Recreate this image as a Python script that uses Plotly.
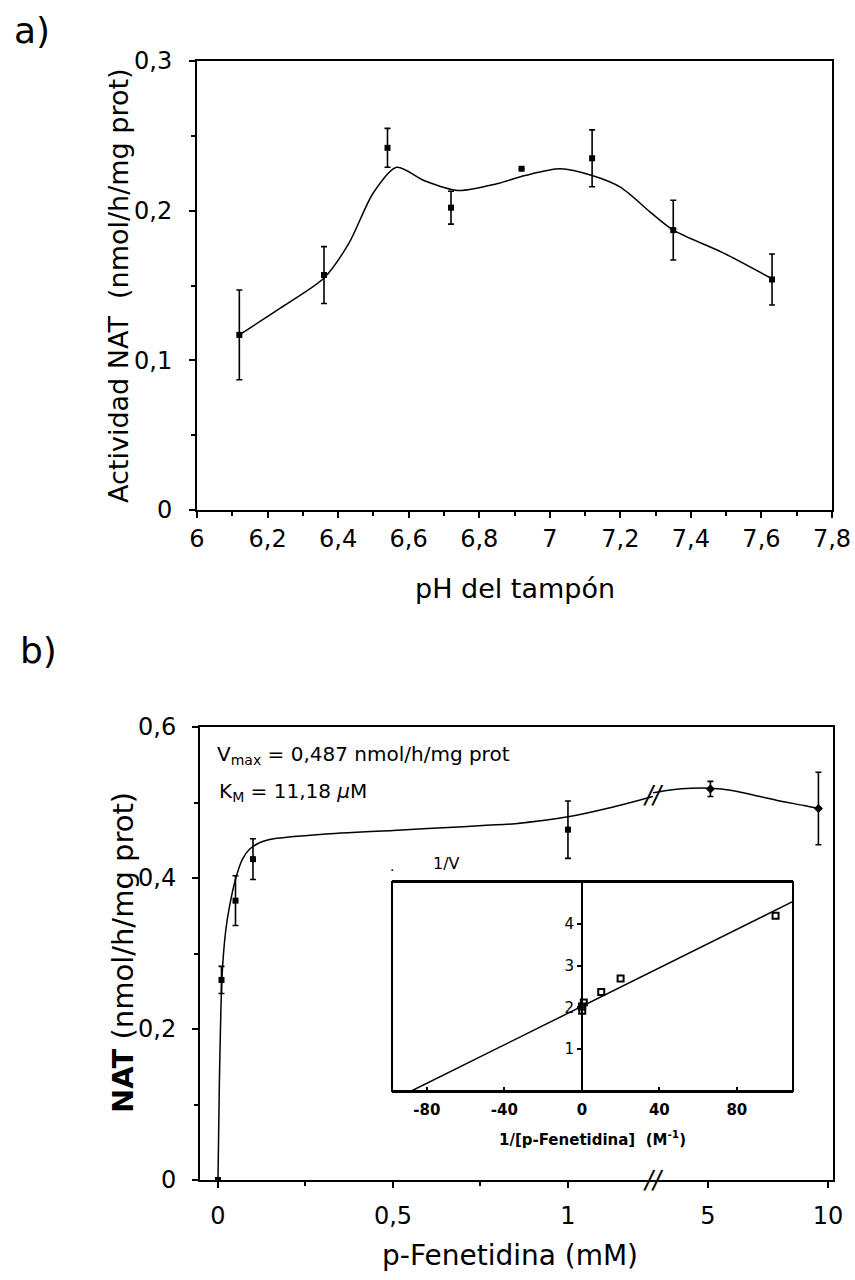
import plotly.graph_objects as go

# ---- a) actividad NAT vs pH
ph = [6.12, 6.36, 6.54, 6.72, 6.92, 7.12, 7.35, 7.63]
act = [0.117, 0.157, 0.242, 0.202, 0.228, 0.235, 0.187, 0.154]
act_err = [0.030, 0.019, 0.013, 0.011, 0.0, 0.019, 0.020, 0.017]
ph_curve = [6.12, 6.25, 6.36, 6.43, 6.50, 6.566, 6.645, 6.74, 6.85, 6.93, 7.03, 7.12, 7.20, 7.29, 7.35, 7.49, 7.63]
act_curve = [0.117, 0.137, 0.155, 0.178, 0.212, 0.229, 0.220, 0.2135, 0.218, 0.2235, 0.228, 0.2235, 0.2157, 0.198, 0.187, 0.172, 0.1545]
ph_ticks = [6, 6.2, 6.4, 6.6, 6.8, 7, 7.2, 7.4, 7.6, 7.8]
ph_labels = ["6", "6,2", "6,4", "6,6", "6,8", "7", "7,2", "7,4", "7,6", "7,8"]
act_ticks = [0, 0.1, 0.2, 0.3]
act_labels = ["0", "0,1", "0,2", "0,3"]

# ---- b) NAT vs p-fenetidina (eje partido)
conc_lo = [0, 0.01, 0.05, 0.10, 1.0]
nat_lo = [0, 0.265, 0.37, 0.425, 0.464]
nat_lo_err = [0, 0.018, 0.033, 0.027, 0.038]
conc_hi = [5.1, 9.6]
nat_hi = [0.518, 0.492]
nat_hi_err = [0.010, 0.048]
fit_lo_x = [0, 0.004, 0.011, 0.022, 0.034, 0.051, 0.07, 0.09, 0.12, 0.16, 0.3, 0.5, 0.7, 0.85, 1.0, 1.12, 1.243]
fit_lo_y = [0, 0.13, 0.265, 0.33, 0.365, 0.40, 0.425, 0.438, 0.447, 0.452, 0.458, 0.463, 0.468, 0.472, 0.481, 0.493, 0.508]
fit_hi_x = [2.708, 3.5, 4.3, 5.1, 6.0, 7.0, 8.0, 9.0, 9.6]
fit_hi_y = [0.513, 0.517, 0.519, 0.519, 0.516, 0.509, 0.502, 0.496, 0.492]
nat_ticks = [0, 0.2, 0.4, 0.6]
nat_labels = ["0", "0,2", "0,4", "0,6"]

# ---- inset Lineweaver-Burk
lb_x = [100, 20, 10, 1, 0.2, 0.1]
lb_y = [4.19, 2.69, 2.37, 2.12, 1.92, 2.02]
lb_line_x = [-88, 108.8]
lb_line_y = [0, 4.53]
lb_xticks = [-80, -40, 0, 40, 80]
lb_xlabels = ["-80", "-40", "0", "40", "80"]

W, H = 855, 1280
FONT = "DejaVu Sans"


def px(x):
    return x / W


def py(y):
    return 1 - y / H


fig = go.Figure()

err_style = dict(type="data", color="black", thickness=1.6, width=3)

fig.add_trace(go.Scatter(x=ph_curve, y=act_curve, mode="lines", line=dict(color="black", width=1.5, shape="spline", smoothing=0.8),
                         xaxis="x", yaxis="y"))
fig.add_trace(go.Scatter(x=ph, y=act, mode="markers", marker=dict(symbol="square", size=6, color="black"),
                         error_y=dict(array=act_err, **err_style), xaxis="x", yaxis="y"))

fig.add_trace(go.Scatter(x=fit_lo_x, y=fit_lo_y, mode="lines", line=dict(color="black", width=1.5, shape="spline", smoothing=0.6),
                         xaxis="x2", yaxis="y2"))
fig.add_trace(go.Scatter(x=conc_lo, y=nat_lo, mode="markers", marker=dict(symbol="square", size=6, color="black"),
                         error_y=dict(array=nat_lo_err, **err_style), xaxis="x2", yaxis="y2"))
fig.add_trace(go.Scatter(x=fit_hi_x, y=fit_hi_y, mode="lines", line=dict(color="black", width=1.5, shape="spline", smoothing=0.8),
                         xaxis="x3", yaxis="y3"))
fig.add_trace(go.Scatter(x=conc_hi, y=nat_hi, mode="markers", marker=dict(symbol="diamond", size=7, color="black"),
                         error_y=dict(array=nat_hi_err, **err_style), xaxis="x3", yaxis="y3"))

fig.add_trace(go.Scatter(x=lb_line_x, y=lb_line_y, mode="lines", line=dict(color="black", width=1.5),
                         xaxis="x4", yaxis="y4"))
fig.add_trace(go.Scatter(x=lb_x, y=lb_y, mode="markers",
                         marker=dict(symbol="square-open", size=6, color="black", line=dict(width=2)),
                         xaxis="x4", yaxis="y4"))

ax = dict(showgrid=False, zeroline=False, showline=True, linecolor="black", linewidth=2, automargin=False,
          ticks="outside", ticklen=6, tickwidth=1.5, tickcolor="black",
          tickfont=dict(family=FONT, size=24, color="black"))

fig.update_layout(
    template="none",
    width=W, height=H, margin=dict(l=0, r=0, t=0, b=0, autoexpand=False),
    paper_bgcolor="white", plot_bgcolor="white", showlegend=False,
    font=dict(family=FONT, color="black"),
    xaxis=dict(ax, domain=[px(197), px(832)], range=[6, 7.8], anchor="y", mirror=True,
               tickvals=ph_ticks, ticktext=ph_labels, ticklabelstandoff=0,
               minor=dict(dtick=0.1, ticks="outside", ticklen=4, tickcolor="black")),
    yaxis=dict(ax, domain=[py(510), py(61)], range=[0, 0.3], anchor="x", mirror=True,
               tickvals=act_ticks, ticktext=act_labels, ticklabelstandoff=12,
               minor=dict(dtick=0.05, ticks="outside", ticklen=4, tickcolor="black")),
    xaxis2=dict(ax, domain=[px(200), px(653)], range=[-0.0514, 1.243], anchor="y2", mirror=True,
                tickvals=[0, 0.5, 1], ticktext=["0", "0,5", "1"], ticklabelstandoff=7,
                minor=dict(tickvals=[0.25, 0.75], ticks="outside", ticklen=4, tickcolor="black")),
    yaxis2=dict(ax, domain=[py(1180), py(727)], range=[0, 0.6], anchor="x2",
                tickvals=nat_ticks, ticktext=nat_labels, ticklabelstandoff=11,
                minor=dict(dtick=0.1, ticks="outside", ticklen=4, tickcolor="black")),
    xaxis3=dict(ax, domain=[px(653), px(833)], range=[2.708, 10.208], anchor="y3", mirror=True,
                tickvals=[5, 10], ticktext=["5", "10"], ticklabelstandoff=7),
    yaxis3=dict(ax, domain=[py(1180), py(727)], range=[0, 0.6], anchor="x3", side="right",
                ticks="", showticklabels=False),
    xaxis4=dict(ax, domain=[px(392), px(793)], range=[-98, 109], anchor="y4", mirror=True,
                ticks="inside", ticklen=4, tickvals=lb_xticks, ticktext=lb_xlabels, ticklabelstandoff=4,
                tickfont=dict(family=FONT, size=15, color="black", weight="bold"),
                title=dict(text="1/[p-Fenetidina]  (M<sup>-1</sup>)", standoff=16,
                           font=dict(family=FONT, size=15, color="black", weight="bold"))),
    yaxis4=dict(ax, domain=[py(1091), py(882)], range=[0, 5], anchor="free", position=px(582),
                ticklen=4, tickvals=[1, 2, 3, 4], tickfont=dict(family=FONT, size=15, color="black")),
)

# marco del recuadro
fig.add_shape(type="rect", xref="x4 domain", yref="y4 domain", x0=0, x1=1, y0=0, y1=1,
              line=dict(color="black", width=2))

ann = [
    dict(x=px(32), y=py(31), text="a)", size=36),
    dict(x=px(38), y=py(650), text="b)", size=36),
    dict(x=px(119), y=py(286), text="Actividad NAT  (nmol/h/mg prot)", textangle=-90, size=27),
    dict(x=px(515), y=py(588), text="pH del tampón", size=27),
    dict(x=px(123), y=py(953), text="<b>NAT</b> (nmol/h/mg prot)", textangle=-90, size=29),
    dict(x=px(510), y=py(1255), text="p-Fenetidina (mM)", size=28),
    dict(x=px(447), y=py(863), text="1/V", size=16),
    dict(x=px(392), y=py(866), text=".", size=14),
]
for a in ann:
    size = a.pop("size")
    fig.add_annotation(xref="paper", yref="paper", showarrow=False, xanchor="center", yanchor="middle",
                       font=dict(family=FONT, color="black", size=size), **a)

fig.add_annotation(xref="paper", yref="paper", x=px(215), y=py(755), xanchor="left", yanchor="middle", showarrow=False,
                   text="V<sub>max</sub> = 0,487 nmol/h/mg prot", font=dict(family=FONT, size=20, color="black"))
fig.add_annotation(xref="paper", yref="paper", x=px(217), y=py(792), xanchor="left", yanchor="middle", showarrow=False,
                   text="K<sub>M</sub> = 11,18 <i>µ</i>M", font=dict(family=FONT, size=20, color="black"))

# marcas de eje partido
for yv in [0, 0.51]:
    fig.add_annotation(xref="x2", yref="y2", x=1.243, y=yv, text="<i>//</i>", showarrow=False,
                       xanchor="center", yanchor="middle", font=dict(family=FONT, size=24, color="black"))

fig.write_html("out.html", config={"displayModeBar": False},
               post_script="document.body.style.margin='0px';")
